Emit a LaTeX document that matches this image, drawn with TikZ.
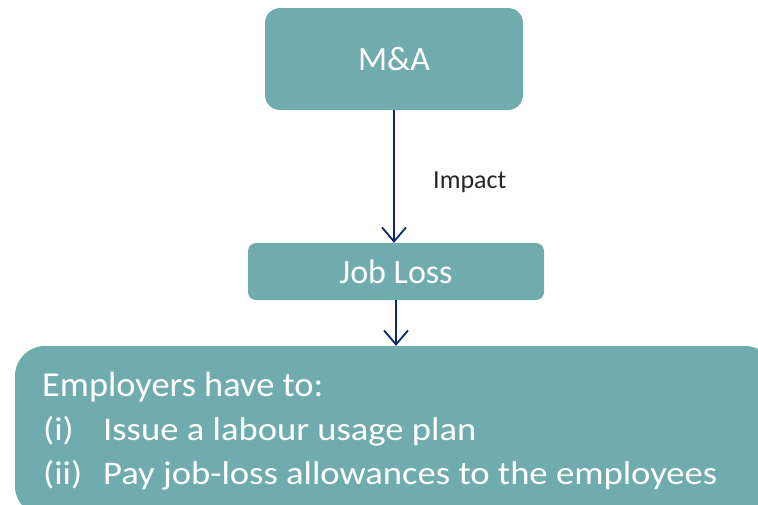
\documentclass[tikz,border=0pt]{standalone}
\usepackage{fontspec}
\setmainfont{Carlito}
\newfontfamily\widefont[FakeStretch=1.11]{Carlito}
\newfontfamily\headfont[FakeStretch=1.04]{Carlito}
\usetikzlibrary{arrows.meta}

\definecolor{tealbox}{RGB}{112,172,173}
\definecolor{navyline}{RGB}{14,40,110}

\tikzset{
  stepbox/.style={fill=tealbox, rounded corners=#1, text=white, inner sep=0pt},
  dutyline/.style={anchor=base west, text=white, inner sep=0pt, font=\widefont\fontsize{33}{44}\selectfont},
  flow/.style={draw=navyline, line width=1.8pt, -{Straight Barb[length=14pt, width=24pt, line width=1.8pt]}}
}

\begin{document}
\begin{tikzpicture}[x=1pt, y=-1pt]
        \clip (0,0) rectangle (758,504);
        \useasboundingbox (0,0) rectangle (758,504);
        % top and middle boxes
        \node[stepbox=15pt, minimum width=258pt, minimum height=102pt, font=\fontsize{34}{40}\selectfont] (ma) at (394,59) {M\&A};
        \node[stepbox=8pt, minimum width=296pt, minimum height=57pt, font=\fontsize{34}{40}\selectfont] (jobloss) at (396,271.5) {Job Loss};
        % bottom box, runs off the page edge
        \node[stepbox=30pt, minimum width=760pt, minimum height=170pt] (duties) at (395,431) {};
        \node[dutyline, font=\headfont\fontsize{35}{44}\selectfont] (duty0) at (42,396) {Employers have to:};
        \node[dutyline] (duty1) at (43,440) {\makebox[60pt][l]{(i)}Issue a labour usage plan};
        \node[dutyline] (duty2) at (43,484) {\makebox[60pt][l]{(ii)}Pay job-loss allowances to the employees};
        % connectors
        \draw[flow] (ma.south) -- (ma.south |- jobloss.north)
            node[midway, right=35pt, yshift=-6pt, text=black!85, font=\fontsize{26}{30}\selectfont] (impact) {Impact};
        \draw[flow] (jobloss.south) -- (jobloss.south |- duties.north);
\end{tikzpicture}
\end{document}
